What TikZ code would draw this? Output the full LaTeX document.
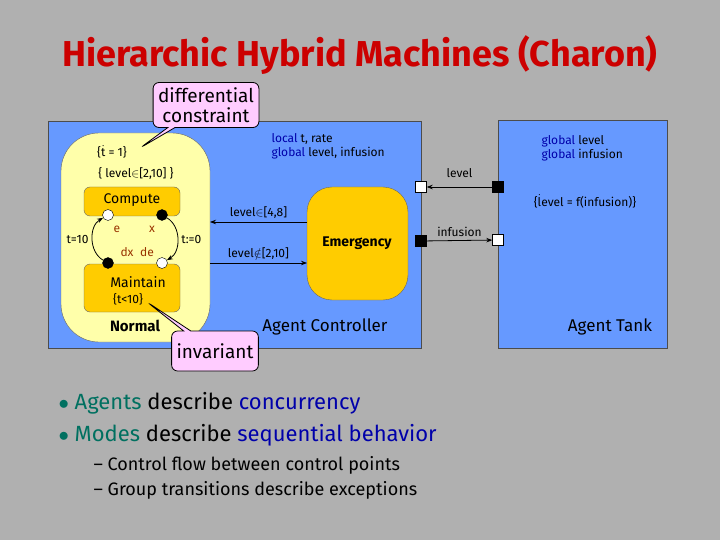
\documentclass[tikz,border=0pt]{standalone}
\usepackage{fontspec}
\setmainfont{Fira Sans}
\usetikzlibrary{shapes.callouts, arrows.meta, positioning}
\definecolor{slidegray}{HTML}{B0B0B0}
\definecolor{agentblue}{HTML}{6699FF}
\definecolor{normalyellow}{HTML}{FFFFAA}
\definecolor{modeorange}{HTML}{FFCC00}
\definecolor{calloutpink}{HTML}{FFCCFF}
\definecolor{kwblue}{HTML}{0000AA}
\definecolor{kwgreen}{HTML}{007060}
\definecolor{portred}{HTML}{993300}
\tikzset{
  agent/.style = {draw=black!70, fill=agentblue, thick},
  mode/.style = {draw=black!60, fill=modeorange, rounded corners=6pt},
  point/.style = {circle, draw=black, inner sep=0pt, minimum size=11pt},
  port/.style = {rectangle, draw=black, inner sep=0pt, minimum size=11pt},
  note/.style = {rectangle callout, rounded corners=6pt, draw=black, thick, fill=calloutpink, font=\fontsize{19}{20}\selectfont, align=center, inner sep=5pt},
  lbl/.style = {font=\fontsize{12}{14}\selectfont},
  arrow/.style = {thick, -{Stealth[length=6pt]}}
}
\begin{document}
\begin{tikzpicture}[x=1pt, y=-1pt]
\fill[slidegray] (0,0) rectangle (720,540);
\useasboundingbox (0,0) rectangle (720,540);

\node (title) at (360,55) [text=red!80!black, font=\fontsize{36}{40}\selectfont\bfseries] {Hierarchic Hybrid Machines (Charon)};

% agents
\draw[agent] (48,121) rectangle (421,348);
\draw[agent] (498,120) rectangle (667,348);

% modes
\draw[draw=black!60, fill=normalyellow, rounded corners=38pt] (61,133) rectangle (210,342);
\draw[mode] (84,187) rectangle (180,216);
\draw[mode] (84,264) rectangle (180,312);
\draw[mode, rounded corners=25pt] (307,187) rectangle (408,300);

\node (compute) at (132,200) [font=\fontsize{14}{15}\selectfont] {Compute};
\node (maintain) at (138,282) [font=\fontsize{14}{15}\selectfont] {Maintain};
\node (inv) at (128,299) [lbl] {\{t<10\}};
\node (normal) at (135,326) [font=\bfseries\fontsize{15}{16}\selectfont] {Normal};
\node (emergency) at (357,243) [font=\bfseries\fontsize{14}{15}\selectfont] {Emergency};

\node (tdot) at (112,152) [lbl] {\{$\dot{\mathrm{t}}$ = 1\}};
\node (range) at (136,173) [lbl] {\{ level$\in$[2,10] \}};

% control points
\node (e)  at (108,215) [point, fill=white] {};
\node (x)  at (162,215) [point, fill=black] {};
\node (dx) at (108,263) [point, fill=black] {};
\node (de) at (162,263) [point, fill=white] {};
\node at (117,229) [lbl, text=portred] {e};
\node at (152,229) [lbl, text=portred] {x};
\node at (127,252) [lbl, text=portred] {dx};
\node at (147,252) [lbl, text=portred] {de};

\draw[arrow] (dx) to[out=150, in=-150] node[left, lbl] {t=10} (e);
\draw[arrow] (x) to[out=-30, in=30] node[right, lbl] {t:=0} (de);

% mode transitions
\coordinate (nout) at (210,263);
\coordinate (nin) at (210,222);
\draw[arrow] (307,222) -- node[above, lbl] {level$\in$[4,8]} (nin);
\draw[arrow] (nout) -- node[above, lbl] {level$\notin$[2,10]} (307,263);

\node (vars) at (268,146) [anchor=west, lbl, align=left]
  {\textcolor{kwblue}{local} t, rate\\ \textcolor{kwblue}{global} level, infusion};
\node (ctrl) at (325,327) [font=\fontsize{17}{18}\selectfont] {Agent Controller};

% ports
\node (cin)  at (421,187) [port, fill=white] {};
\node (cout) at (421,241) [port, fill=black] {};
\node (tout) at (498,187) [port, fill=black] {};
\node (tin)  at (498,240) [port, fill=white] {};
\draw[arrow] (tout) -- node[above=6pt, lbl] {level} (cin);
\draw[arrow] (cout) -- node[above, lbl] {infusion} (tin);

\node (tvars) at (538,148) [anchor=west, lbl, align=left]
  {\textcolor{kwblue}{global} level\\ \textcolor{kwblue}{global} infusion};
\node (flow) at (585,201) [lbl] {\{$\dot{\mathrm{l}}$evel = f(infusion)\}};
\node (tank) at (610,327) [font=\fontsize{17}{18}\selectfont] {Agent Tank};

% callouts
\node (diff) at (206,105) [note, callout absolute pointer={(140,148)}] {differential\\constraint};
\node (invar) at (215,351) [note, callout absolute pointer={(147,302)}, minimum height=40pt] {invariant};

% bullets
\node (b1) at (55,403) [anchor=west, font=\fontsize{22}{24}\selectfont]
  {\textcolor{kwgreen}{$\bullet$\ Agents} describe \textcolor{kwblue}{concurrency}};
\node (b2) at (55,435) [anchor=west, font=\fontsize{22}{24}\selectfont]
  {\textcolor{kwgreen}{$\bullet$\ Modes} describe \textcolor{kwblue}{sequential behavior}};
\node (s1) at (90,465) [anchor=west, font=\fontsize{18}{20}\selectfont] {– Control flow between control points};
\node (s2) at (90,490) [anchor=west, font=\fontsize{18}{20}\selectfont] {– Group transitions describe exceptions};
\end{tikzpicture}
\end{document}
